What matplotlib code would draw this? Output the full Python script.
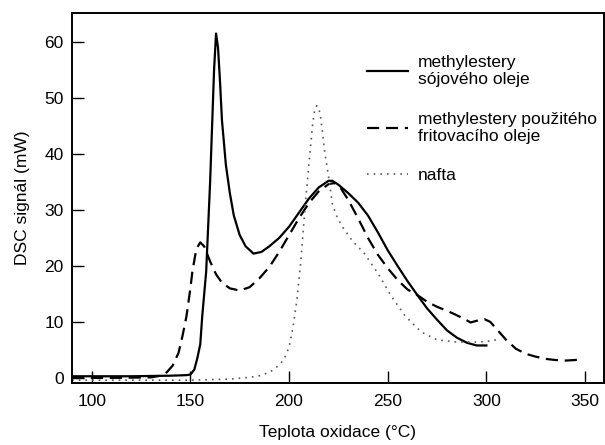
import matplotlib
matplotlib.use("Agg")
import matplotlib.pyplot as plt

plt.rcParams['font.family'] = ['Liberation Sans', 'DejaVu Sans']

# methylestery sojoveho oleje
t_soy = [90, 100, 120, 140, 148, 150, 152, 153.5, 155, 156, 157, 158, 159, 160, 161, 162,
         163, 164, 165, 166, 168, 170, 172, 175, 178, 182, 186, 190, 195, 200, 205, 210,
         215, 220, 222, 225, 230, 235, 240, 245, 250, 255, 260, 265, 270, 275, 280, 285,
         290, 295, 300]
dsc_soy = [0.3, 0.3, 0.3, 0.4, 0.5, 0.6, 1.5, 3.5, 6, 11, 15, 19, 27, 35, 45, 55,
           61.5, 59, 53, 46, 38, 33, 29, 25.5, 23.5, 22.2, 22.5, 23.5, 25, 27, 29.5, 32,
           34, 35.2, 35.2, 34.5, 33, 31.3, 29, 26, 22.8, 20, 17.3, 14.8, 12.4, 10.4, 8.5, 7.2,
           6.3, 5.8, 5.8]

# methylestery pouziteho fritovaciho oleje
t_fry = [90, 110, 130, 135, 138, 141, 144, 146, 148, 150, 151, 153, 155, 157, 160, 163,
         166, 170, 175, 180, 185, 190, 195, 200, 205, 210, 215, 220, 223, 226, 230, 235,
         240, 245, 250, 255, 260, 265, 270, 275, 280, 285, 290, 292, 295, 299, 302, 305,
         310, 315, 320, 325, 330, 335, 340, 345, 348]
dsc_fry = [0, 0, 0.1, 0.4, 1, 2.2, 4.5, 7.5, 11, 16, 19, 23, 24.2, 23.5, 20.8, 18.5,
           17, 16, 15.6, 16.2, 17.8, 19.8, 22.5, 25.5, 28.5, 31.2, 33.3, 34.6, 34.8, 34, 31.8, 28.5,
           25, 22, 19.6, 17.5, 15.8, 14.8, 13.6, 12.7, 12, 11.2, 10.3, 9.9, 10.2, 10.5, 10, 8.8,
           6.8, 5.2, 4.3, 3.8, 3.4, 3.2, 3.1, 3.2, 3.4]

# nafta
t_naf = [90, 120, 150, 170, 180, 185, 190, 193, 196, 198, 200, 202, 204, 206, 208, 210,
         212, 213, 214, 215, 216, 217, 218, 220, 222, 224, 227, 232, 238, 245, 252, 259,
         267, 275, 285, 295, 300, 305]
dsc_naf = [-0.4, -0.4, -0.4, -0.2, 0.1, 0.4, 1, 1.7, 2.7, 3.8, 5.5, 9, 14, 21, 30, 38,
           45.5, 47.8, 48.6, 48.3, 46.5, 43.7, 40.5, 36, 31, 29, 27, 24.5, 22.3, 18.7, 14.5, 11,
           8.2, 6.8, 6.4, 6.4, 6.5, 6.8]

fig = plt.figure(figsize=(6.05, 4.45), dpi=100)
ax = fig.add_axes([0.119, 0.14, 0.879, 0.83])

ax.plot(t_soy, dsc_soy, color='black', lw=1.6, label='methylestery\nsójového oleje')
ax.plot(t_fry, dsc_fry, color='black', lw=1.6, ls=(0, (5.5, 3)),
        label='methylestery použitého\nfritovacího oleje')
ax.plot(t_naf, dsc_naf, color='0.35', lw=1.2, ls=(0, (1, 3)), label='nafta')

ax.set_xlim(90, 359.5)
ax.set_ylim(-0.85, 65.1)
ax.set_xticks([100, 150, 200, 250, 300, 350])
ax.set_yticks([0, 10, 20, 30, 40, 50, 60])
ax.tick_params(direction='in', length=8.5, width=1, labelsize=12.5)
ax.tick_params(axis='x', pad=8)
ax.tick_params(axis='y', pad=6)
for s in ax.spines.values():
    s.set_linewidth(1.4)

ax.set_xlabel('Teplota oxidace (°C)', fontsize=12.5, labelpad=12)
ax.set_ylabel('DSC signál (mW)', fontsize=12.5, labelpad=10)

ax.legend(loc='upper left', bbox_to_anchor=(0.525, 0.93), frameon=False, fontsize=12.5,
          handlelength=2.4, labelspacing=1.4, handletextpad=0.55)

fig.savefig('out.png', dpi=100)
